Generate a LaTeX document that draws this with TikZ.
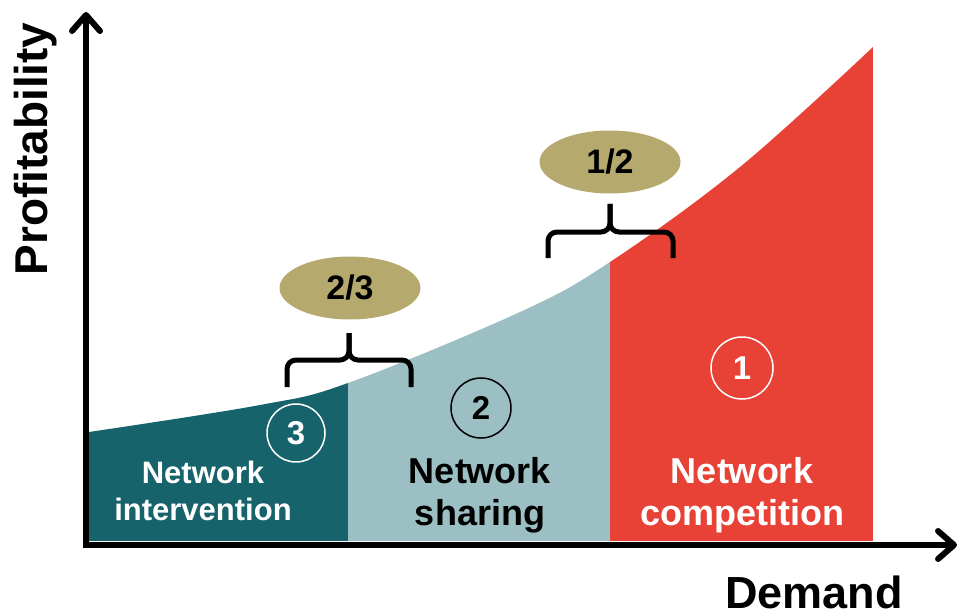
\documentclass[tikz,border=0pt]{standalone}
\usepackage{fontspec}
\setmainfont{Liberation Sans}
\usetikzlibrary{shapes.geometric,arrows.meta}
\definecolor{darkteal}{HTML}{17636B}
\definecolor{lightteal}{HTML}{9BBFC3}
\definecolor{compred}{HTML}{E84136}
\definecolor{khaki}{HTML}{B5A96E}

\begin{document}
\begin{tikzpicture}[x=1pt,y=-1pt]
			\tikzstyle{axis}=[line width=6pt,>={Straight Barb[round,length=16pt,width=28pt]},<->]
			\tikzstyle{brace}=[line width=5pt,rounded corners=9pt]
			\tikzstyle{badge}=[ellipse,fill=khaki,minimum width=141pt,minimum height=63pt,inner sep=0pt,font=\fontsize{34}{40}\selectfont\bfseries]
			\tikzstyle{num}=[circle,line width=1.5pt,inner sep=0pt,font=\fontsize{33}{40}\selectfont\bfseries]
			\tikzstyle{label}=[align=center,anchor=base]
			\useasboundingbox (0,0) rectangle (957,612);
			
			\begin{scope}
				\clip (89,541) -- plot[smooth,tension=0.6] coordinates {(89,432) (260,405) (348,383) (520,312) (610,262) (740,167) (873,47)} -- (873,541) -- cycle;
				\fill[darkteal] (89,0) rectangle (348,541);
				\fill[lightteal] (348,0) rectangle (610,541);
				\fill[compred] (610,0) rectangle (873,541);
			\end{scope}
			
			\draw[axis] (86,12) -- (86,545) -- (957,545);
			
			\node (y)[anchor=base,rotate=90,font=\fontsize{46}{50}\selectfont\bfseries] at (47,149) {Profitability};
			\node (x)[anchor=base,font=\fontsize{45}{50}\selectfont\bfseries] at (814,608) {Demand};
			
			\node (t3)[label,text=white,font=\fontsize{31}{37}\selectfont\bfseries] at (203,520) {Network\\intervention};
			\node (t2)[label,font=\fontsize{36}{42}\selectfont\bfseries] at (480,525) {Network\\sharing};
			\node (t1)[label,text=white,font=\fontsize{36}{42}\selectfont\bfseries] at (742,525) {Network\\competition};
			
			\node (c3)[num,draw=white,text=white,minimum size=58pt] at (296,433) {3};
			\node (c2)[num,draw=black,minimum size=60pt] at (481,408) {2};
			\node (c1)[num,draw=white,text=white,minimum size=62pt] at (742,368) {1};
			
			\node (e23)[badge] at (350,288) {2/3};
			\node (e12)[badge] at (610,162) {1/2};
			
			\draw[brace] (287,387) |- (349,360) -- (349,333);
			\draw[brace] (411,387) |- (349,360) -- (349,333);
			\draw[brace] (548,258) |- (610,232) -- (610,204);
			\draw[brace] (673,258) |- (610,232) -- (610,204);

		\end{tikzpicture}
\end{document}
